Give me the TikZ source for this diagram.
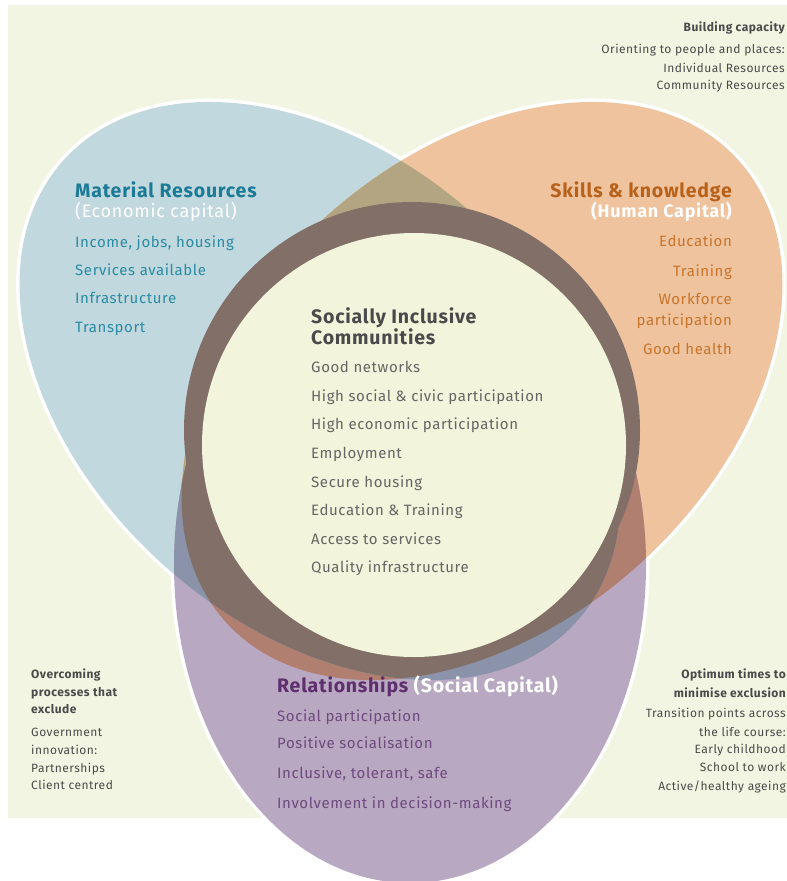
\documentclass[tikz,border=0pt]{standalone}
\usepackage{fontspec}
\setmainfont{Fira Sans}[LetterSpace=4]
\usetikzlibrary{positioning}
\definecolor{paper}{HTML}{F2F5E2}
\definecolor{bluecap}{HTML}{C1D9DE}
\definecolor{orangecap}{HTML}{EEC39E}
\definecolor{purplecap}{HTML}{B9A8C1}
\definecolor{khaki}{HTML}{B4A582}
\definecolor{slate}{HTML}{8A93A9}
\definecolor{rust}{HTML}{B07F70}
\definecolor{ringbrown}{HTML}{826F67}
\definecolor{cream}{HTML}{F2F4DC}
\definecolor{tealhead}{HTML}{1B7A96}
\definecolor{tealtxt}{HTML}{2A8BA3}
\definecolor{ochrehead}{HTML}{B8611A}
\definecolor{ochretxt}{HTML}{C8752C}
\definecolor{plumhead}{HTML}{5E2E6E}
\definecolor{plumtxt}{HTML}{6E4A7E}
\definecolor{greytxt}{HTML}{4A4A4A}
\newcommand\matcap{[rotate around={-42:(320,391)}] (320,391) circle [x radius=345pt,y radius=234pt]}
\newcommand\skillcap{[rotate around={42:(482,391)}] (482,391) circle [x radius=345pt,y radius=234pt]}
\newcommand\socialcap{(410,565) circle [x radius=236pt,y radius=318pt]}
\tikzset{item/.style={anchor=base west,inner sep=0pt,font=\fontsize{15}{17}\selectfont},
  ritem/.style={item,anchor=base east},
  head/.style={item,font=\fontsize{19.5}{21}\selectfont\bfseries},
  rhead/.style={head,anchor=base east},
  note/.style={inner sep=0pt,text=greytxt,font=\fontsize{12}{14}\selectfont},
  notehead/.style={note,font=\fontsize{12}{14}\selectfont\bfseries}}

\begin{document}
\begin{tikzpicture}[x=1pt,y=-1pt]
\useasboundingbox (0,0) rectangle (787,881);
\fill[paper] (8,5) rectangle (787,818);
% white rims first, so they only show on the outside
\draw[white,line width=7pt] \matcap;
\draw[white,line width=7pt] \skillcap;
\draw[white,line width=7pt] \socialcap;
\fill[bluecap] \matcap;
\fill[orangecap] \skillcap;
\fill[purplecap] \socialcap;
% overlaps
\begin{scope}
  \clip \skillcap;
  \fill[rust] \socialcap;
\end{scope}
\begin{scope}
  \clip \matcap;
  \fill[khaki] \skillcap;
  \fill[slate] \socialcap;
  \clip \skillcap;
  \fill[ringbrown] \socialcap;
\end{scope}
\fill[ringbrown] (412,430) circle (228pt);
\fill[cream] (414,445) circle (212pt);

% material resources
\node[head,text=tealhead] (mat) at (75,197) {Material Resources};
\node[item,white,font=\fontsize{18}{20}\selectfont] (econ) at (75,217) {(Economic capital)};
\foreach \y/\t in {247/{Income, jobs, housing},275/Services available,303/Infrastructure,332/Transport}
  \node[item,text=tealtxt] (mat\y) at (75,\y) {\t};

% skills
\node[rhead,text=ochrehead] (skill) at (732,197) {Skills \& knowledge};
\node[rhead,white,font=\fontsize{18}{20}\selectfont\bfseries] (human) at (732,217) {(Human Capital)};
\foreach \y/\t in {246/Education,276/Training,304/Workforce,325/participation,354/Good health}
  \node[ritem,text=ochretxt] (skill\y) at (732,\y) {\t};

% centre
\node[head,text=greytxt] (sic1) at (311,323) {Socially Inclusive};
\node[head,text=greytxt] (sic2) at (311,344) {Communities};
\foreach \t [count=\i] in {Good networks,High social \& civic participation,High economic participation,Employment,Secure housing,Education \& Training,Access to services,Quality infrastructure}
  \node[item,text=greytxt!85] (sic\i+2) at (311,344+28.6*\i) {\t};

% relationships
\node[head,text=plumhead] (rel) at (277,692) {Relationships \textcolor{white}{(Social Capital)}};
\foreach \y/\t in {721/Social participation,748/Positive socialisation,778/{Inclusive, tolerant, safe},808/Involvement in decision-making}
  \node[item,text=plumtxt] (rel\y) at (277,\y) {\t};

% side notes
\node[notehead,anchor=base east] (build) at (785,31) {Building capacity};
\foreach \y/\t in {53/Orienting to people and places:,72/Individual Resources,89/Community Resources}
  \node[note,anchor=base east] (build\y) at (785,\y) {\t};
\foreach \y/\t in {678/Overcoming,696/processes that,713/exclude}
  \node[notehead,anchor=base west] (over\y) at (31,\y) {\t};
\foreach \y/\t in {736/Government,754/innovation:,772/Partnerships,789/Client centred}
  \node[note,anchor=base west] (gov\y) at (31,\y) {\t};
\foreach \y/\t in {678/Optimum times to,697/minimise exclusion}
  \node[notehead,anchor=base east] (opt\y) at (786,\y) {\t};
\foreach \y/\t in {717/Transition points across,736/the life course:,753/Early childhood,771/School to work,790/{Active/healthy ageing}}
  \node[note,anchor=base east] (trans\y) at (786,\y) {\t};
\end{tikzpicture}
\end{document}
